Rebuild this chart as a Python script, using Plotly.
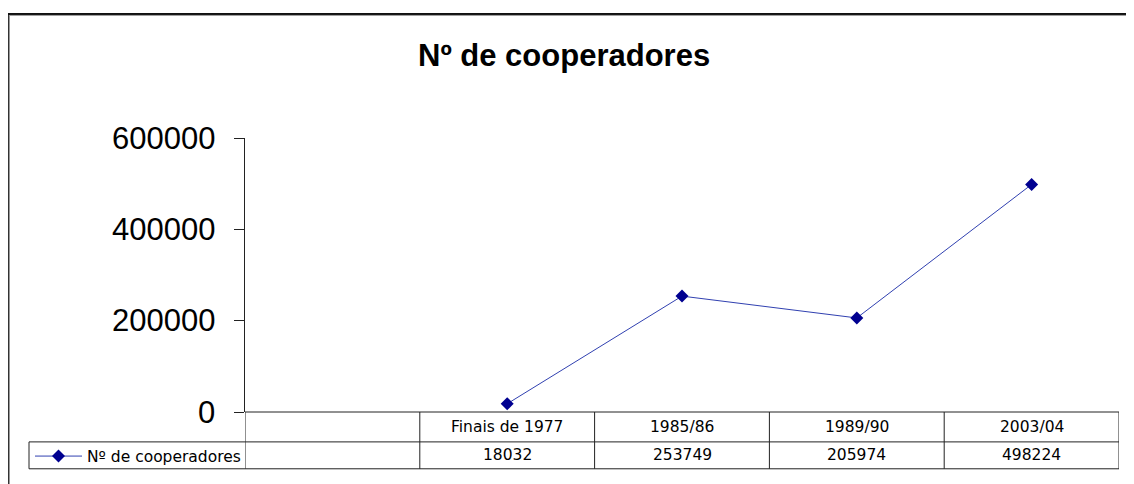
import plotly.graph_objects as go

# ---- data ----
categories = ["Finais de 1977", "1985/86", "1989/90", "2003/04"]
values = [18032, 253749, 205974, 498224]
series_name = "Nº de cooperadores"
title_text = "Nº de cooperadores"
y_ticks = [0, 200000, 400000, 600000]

OFF = 8  # page body margin
W, H = 1134 - OFF, 484 - OFF
# plot area in screen pixels
SL, SR, ST, SB = 245, 1119, 138, 413
L, R, T, B = SL - OFF, SR - OFF, ST - OFF, SB - OFF


def px(xs):
    return (xs - SL) / (SR - SL)


def py(ys):
    return (SB - ys) / (SB - ST)


fig = go.Figure()
fig.add_trace(go.Scatter(
    x=categories, y=values, mode="lines+markers", name=series_name,
    line=dict(color="#3040b0", width=1),
    marker=dict(symbol="diamond", size=10, color="#000090",
                line=dict(width=0)),
    showlegend=True,
))

shapes = []
line_c = "#222222"
# table horizontal lines
for yy in (443, 470):
    shapes.append(dict(type="line", xref="paper", yref="paper",
                       x0=px(29), x1=px(SR), y0=py(yy), y1=py(yy),
                       line=dict(color=line_c, width=1)))
shapes.append(dict(type="line", xref="paper", yref="paper",
                   x0=0, x1=1, y0=0, y1=0, line=dict(color=line_c, width=1)))
# vertical column lines
ncol = len(categories)
for i in range(ncol + 2):
    xv = -1.5 + i
    shapes.append(dict(type="line", xref="x", yref="paper",
                       x0=xv, x1=xv, y0=py(413), y1=py(470),
                       line=dict(color=line_c, width=1)))
# legend cell left border
shapes.append(dict(type="line", xref="paper", yref="paper",
                   x0=px(29), x1=px(29), y0=py(443), y1=py(470),
                   line=dict(color=line_c, width=1)))
# outer frame
shapes.append(dict(type="line", xref="paper", yref="paper",
                   x0=px(8.5), x1=px(8.5), y0=py(13), y1=py(490),
                   line=dict(color="#333333", width=2)))
shapes.append(dict(type="line", xref="paper", yref="paper",
                   x0=px(7.5), x1=px(1140), y0=py(13.5), y1=py(13.5),
                   line=dict(color="#111111", width=2)))
shapes.append(dict(type="line", xref="paper", yref="paper",
                   x0=px(9.5), x1=px(1140), y0=py(15), y1=py(15),
                   line=dict(color="#999999", width=1)))

annotations = []
tfont = dict(family="DejaVu Sans, Verdana, sans-serif", size=15.5, color="black")
for c, v in zip(categories, values):
    annotations.append(dict(x=c, xref="x", y=py(428), yref="paper",
                            xanchor="center", yanchor="middle",
                            text=c, showarrow=False, font=tfont))
    annotations.append(dict(x=c, xref="x", y=py(456.5), yref="paper",
                            xanchor="center", yanchor="middle",
                            text=str(v), showarrow=False, font=tfont))
# y tick labels
for t in y_ticks:
    annotations.append(dict(x=px(217), xref="paper", y=t, yref="y",
                            xanchor="right", yanchor="middle",
                            text=str(t), showarrow=False,
                            font=dict(family="Liberation Sans, Arial, sans-serif",
                                      size=31, color="black")))
annotations.append(dict(x=px(564), xref="paper", y=py(55), yref="paper",
                        xanchor="center", yanchor="middle",
                        text="<b>" + title_text + "</b>", showarrow=False,
                        font=dict(family="Liberation Sans, Arial, sans-serif",
                                  size=31, color="black")))

fig.update_layout(
    width=W, height=H,
    margin=dict(l=L, r=W - R, t=T, b=H - B, pad=0),
    paper_bgcolor="white", plot_bgcolor="white",
    shapes=shapes, annotations=annotations,
    showlegend=True,
    legend=dict(x=px(30), y=py(456.5), xanchor="left", yanchor="middle",
                xref="paper", yref="paper", bgcolor="rgba(0,0,0,0)",
                font=tfont, itemwidth=47, borderwidth=0,
                tracegroupgap=0),
    xaxis=dict(type="category", range=[-1.5, ncol - 0.5],
               showticklabels=False, showgrid=False, zeroline=False,
               showline=False, ticks=""),
    yaxis=dict(range=[0, 600000], tickvals=y_ticks,
               showticklabels=False,
               showgrid=False, zeroline=False, showline=True,
               linecolor=line_c, linewidth=1, ticks="outside", ticklen=10,
               tickcolor=line_c),
)

fig.write_html("out.html")
